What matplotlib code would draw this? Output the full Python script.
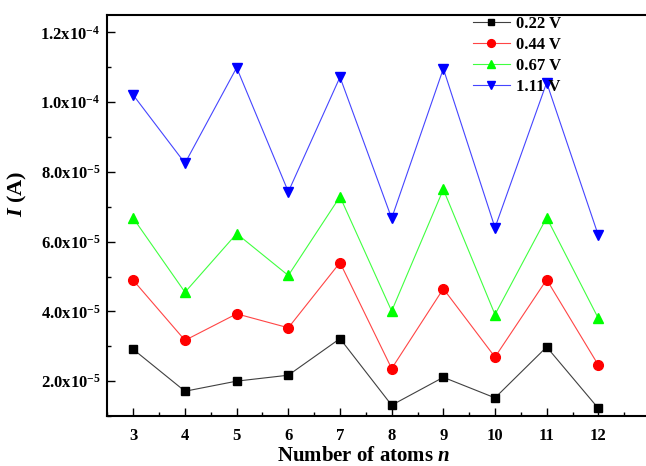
import numpy as np
import matplotlib
matplotlib.use('Agg')
import matplotlib.pyplot as plt
from matplotlib.ticker import FixedLocator, MultipleLocator

# --------------------------------------------------
# Data
# --------------------------------------------------
n_atoms = [3, 4, 5, 6, 7, 8, 9, 10, 11, 12]

i_022 = [2.91e-5, 1.71e-5, 2.00e-5, 2.17e-5, 3.22e-5, 1.31e-5, 2.11e-5, 1.52e-5, 2.98e-5, 1.22e-5]
i_044 = [4.89e-5, 3.17e-5, 3.93e-5, 3.53e-5, 5.40e-5, 2.36e-5, 4.65e-5, 2.69e-5, 4.91e-5, 2.46e-5]
i_067 = [6.67e-5, 4.55e-5, 6.23e-5, 5.03e-5, 7.29e-5, 4.01e-5, 7.50e-5, 3.91e-5, 6.69e-5, 3.80e-5]
i_111 = [1.020e-4, 8.25e-5, 1.099e-4, 7.43e-5, 1.072e-4, 6.67e-5, 1.096e-4, 6.40e-5, 1.056e-4, 6.18e-5]

series_labels = ['0.22 V', '0.44 V', '0.67 V', '1.11 V']

y_ticks = [2e-5, 4e-5, 6e-5, 8e-5, 1.0e-4, 1.2e-4]
y_tick_labels = ['2.0x10$^{-5}$', '4.0x10$^{-5}$', '6.0x10$^{-5}$',
                 '8.0x10$^{-5}$', '1.0x10$^{-4}$', '1.2x10$^{-4}$']

# --------------------------------------------------
# Fonts: Times-like bold everywhere
# --------------------------------------------------
plt.rcParams['font.family'] = 'Liberation Serif'
plt.rcParams['font.weight'] = 'bold'
plt.rcParams['mathtext.fontset'] = 'custom'
plt.rcParams['mathtext.rm'] = 'Liberation Serif:bold'
plt.rcParams['mathtext.bf'] = 'Liberation Serif:bold'
plt.rcParams['mathtext.it'] = 'Liberation Serif:italic:bold'

fig = plt.figure(figsize=(6.46, 4.66), dpi=100)
ax = fig.add_axes([0.1664, 0.1073, 0.8398, 0.8605])

styles = [
    dict(color='#404040', marker='s', markerfacecolor='black', markeredgecolor='black', markersize=6),
    dict(color='#ff4545', marker='o', markerfacecolor='red', markeredgecolor='red', markersize=7),
    dict(color='#40ff40', marker='^', markerfacecolor='#00ff00', markeredgecolor='#00ff00', markersize=7.5),
    dict(color='#4545ff', marker='v', markerfacecolor='blue', markeredgecolor='blue', markersize=7.5),
]

for vals, lab, st in zip([i_022, i_044, i_067, i_111], series_labels, styles):
    ax.plot(n_atoms, vals, label=lab, linewidth=0.8, **st)

ax.set_xlim(2.5, 13)
ax.set_ylim(1.0e-5, 1.25e-4)

ax.xaxis.set_major_locator(FixedLocator(n_atoms))
ax.xaxis.set_minor_locator(MultipleLocator(0.5))
ax.yaxis.set_major_locator(FixedLocator(y_ticks))
ax.set_yticklabels(y_tick_labels)
ax.yaxis.set_minor_locator(MultipleLocator(1e-5))

ax.tick_params(which='both', direction='in', top=False, right=False, labelsize=12)
ax.tick_params(axis='x', which='major', pad=9)
ax.tick_params(axis='y', which='major', pad=5)
ax.tick_params(which='major', length=6, width=1.0)
ax.tick_params(which='minor', length=3, width=1.0)
for sp in ax.spines.values():
    sp.set_linewidth(1.5)
ax.spines['right'].set_visible(False)

ax.set_xlabel('Number of atoms $n$', fontsize=15, fontweight='bold')
ax.set_ylabel('$I$ (A)', fontsize=16, fontweight='bold')
ax.xaxis.set_label_coords(0.472, -0.074)
ax.yaxis.set_label_coords(-0.145, 0.554)

ax.legend(loc='upper left', bbox_to_anchor=(473 / 646, 1 - 16 / 466),
          bbox_transform=fig.transFigure, frameon=False, fontsize=12,
          borderpad=0, borderaxespad=0, handlelength=2.2, handletextpad=0.4,
          labelspacing=0.3, markerscale=0.8)

fig.savefig('out.png', dpi=100)
